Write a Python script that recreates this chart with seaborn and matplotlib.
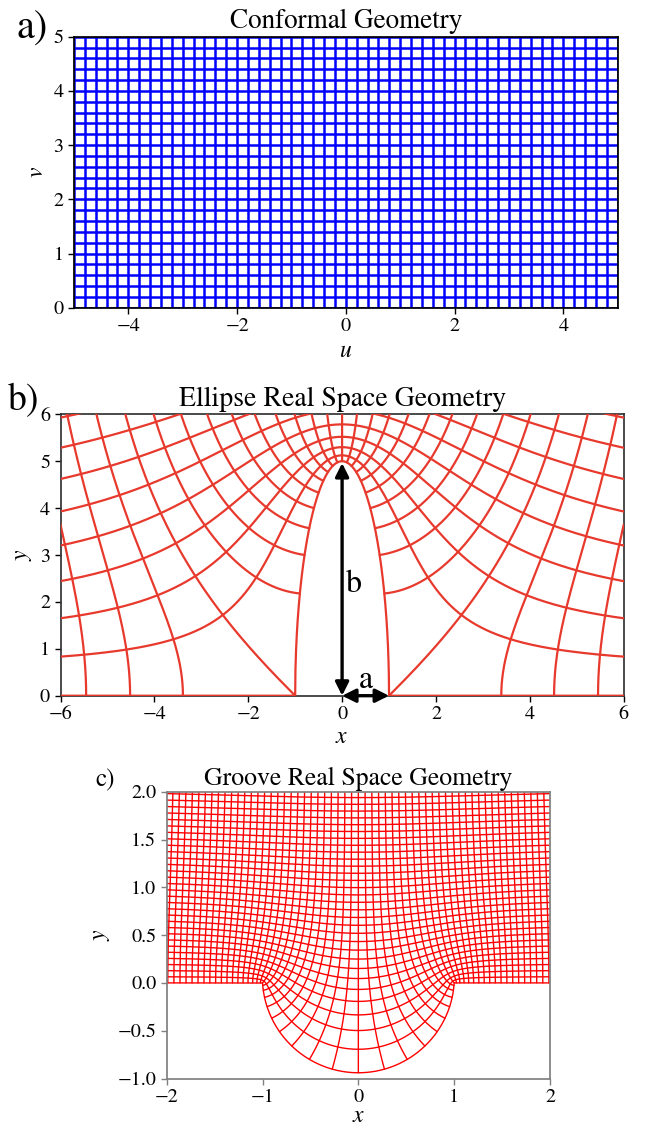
import numpy as np
import pandas as pd
import matplotlib
matplotlib.use("Agg")
import matplotlib.pyplot as plt
import seaborn as sns

# ---- conformal (w = u + i v) grid -------------------------------------------
U_RANGE = [-5.0, 5.0]
V_RANGE = [0.0, 5.0]
COARSE_STEP = 0.2      # grid spacing used for the conformal and ellipse panels
FINE_STEP = 0.1        # grid spacing used for the groove panel

# ---- ellipse geometry (semi-axes) -------------------------------------------
ELLIPSE_A = 1.0
ELLIPSE_B = 5.0

# ---- groove geometry (circular-arc groove) ----------------------------------
GROOVE_HALF_WIDTH = 1.0
GROOVE_DEPTH = 0.94

titles = ["Conformal Geometry", "Ellipse Real Space Geometry",
          "Groove Real Space Geometry"]
tags = ["a)", "b)", "c)"]

a_xticks = [-4, -2, 0, 2, 4]
a_yticks = [0, 1, 2, 3, 4, 5]
b_xticks = [-6, -4, -2, 0, 2, 4, 6]
b_yticks = [0, 1, 2, 3, 4, 5, 6]
c_xticks = [-2, -1, 0, 1, 2]
c_yticks = [-1.0, -0.5, 0.0, 0.5, 1.0, 1.5, 2.0]

N_PTS = 1601


def grid_lines(step):
    """Return complex arrays for the lines u = const and v = const."""
    us = np.round(np.arange(U_RANGE[0], U_RANGE[1] + step / 2, step), 6)
    vs = np.round(np.arange(V_RANGE[0], V_RANGE[1] + step / 2, step), 6)
    u_par = np.linspace(U_RANGE[0], U_RANGE[1], N_PTS)
    v_par = np.linspace(V_RANGE[0], V_RANGE[1], N_PTS)
    lines = [u + 1j * v_par for u in us]
    lines += [u_par + 1j * v for v in vs]
    return lines


def ellipse_map(w):
    # upper half plane -> exterior of a half ellipse standing on the real axis
    zeta = (w + np.sqrt(w - 2) * np.sqrt(w + 2)) / 2
    return (ELLIPSE_A + ELLIPSE_B) / 2 * zeta + (ELLIPSE_A - ELLIPSE_B) / 2 / zeta


GAMMA = 1 + 2 * np.arctan(GROOVE_DEPTH / GROOVE_HALF_WIDTH) / np.pi


def groove_map(w):
    # upper half plane -> half plane with a circular-arc groove
    with np.errstate(all="ignore"):
        p = np.power(w + 1, GAMMA)
        m = np.power(w - 1, GAMMA)
        z = GROOVE_HALF_WIDTH * (p + m) / (p - m)
    bad = ~np.isfinite(z)
    z[bad] = GROOVE_HALF_WIDTH * np.sign(w[bad].real)
    return z


def to_frame(lines, mapping=None):
    parts = []
    for k, w in enumerate(lines):
        z = mapping(w) if mapping is not None else w
        parts.append(pd.DataFrame({"x": z.real, "y": z.imag, "line": k}))
    return pd.concat(parts, ignore_index=True)


df_a = to_frame([np.array([w[0], w[-1]]) for w in grid_lines(COARSE_STEP)])
df_b = to_frame(grid_lines(COARSE_STEP), ellipse_map)
df_c = to_frame(grid_lines(FINE_STEP), groove_map)

# ---- figure -----------------------------------------------------------------
sns.set_theme(style="ticks")
plt.rcParams["font.family"] = ["STIXGeneral", "DejaVu Serif"]
plt.rcParams["mathtext.fontset"] = "stix"
plt.rcParams["axes.unicode_minus"] = True
for key in ("text.color", "axes.labelcolor", "xtick.color", "ytick.color",
            "xtick.labelcolor", "ytick.labelcolor"):
    plt.rcParams[key] = "black"

W_PX, H_PX = 645, 1130
fig = plt.figure(figsize=(W_PX / 100, H_PX / 100), dpi=100)


def px_axes(left, top, right, bottom):
    return fig.add_axes([left / W_PX, 1 - bottom / H_PX,
                         (right - left) / W_PX, (bottom - top) / H_PX])


ax_a = px_axes(74, 36.7, 617.7, 307.7)
ax_b = px_axes(60.5, 414.3, 623.7, 695.7)
ax_c = px_axes(166.7, 791.7, 550, 1078.5)

TICK_FS = 14.5
LABEL_FS = 17

# a) conformal grid
sns.lineplot(data=df_a, x="x", y="y", units="line", estimator=None, sort=False,
             color="#0000ff", linewidth=1.8, ax=ax_a, legend=False)
ax_a.set_xlim(-5, 5)
ax_a.set_ylim(0, 5)
ax_a.set_xticks(a_xticks)
ax_a.set_yticks(a_yticks)
ax_a.set_xlabel("$u$", fontsize=LABEL_FS)
ax_a.set_ylabel("$v$", fontsize=LABEL_FS)
ax_a.set_title(titles[0], fontsize=19.5, pad=6)

# b) ellipse
sns.lineplot(data=df_b, x="x", y="y", units="line", estimator=None, sort=False,
             color="#e8392d", linewidth=1.6, ax=ax_b, legend=False, zorder=3)
ax_b.set_xlim(-6, 6)
ax_b.set_ylim(0, 6)
ax_b.set_xticks(b_xticks)
ax_b.set_yticks(b_yticks)
ax_b.set_xlabel("$x$", fontsize=LABEL_FS, labelpad=2.5)
ax_b.set_ylabel("$y$", fontsize=LABEL_FS)
ax_b.set_title(titles[1], fontsize=20, pad=6)
arrow_kw = dict(arrowstyle="<|-|>", color="black", lw=2.4, mutation_scale=20,
                shrinkA=0, shrinkB=0)
ax_b.annotate("", xy=(0, 4.96), xytext=(0, 0.0), arrowprops=arrow_kw,
              annotation_clip=False, zorder=6)
ax_b.annotate("", xy=(ELLIPSE_A, 0.0), xytext=(0, 0.0), arrowprops=arrow_kw,
              annotation_clip=False, zorder=6)
ax_b.text(0.25, 2.22, "b", fontsize=23, ha="center", va="baseline")
ax_b.text(0.50, 0.17, "a", fontsize=23, ha="center", va="baseline")

# c) groove
sns.lineplot(data=df_c, x="x", y="y", units="line", estimator=None, sort=False,
             color="#ff0000", linewidth=1.0, ax=ax_c, legend=False)
ax_c.set_xlim(-2, 2)
ax_c.set_ylim(-1, 2)
ax_c.set_xticks(c_xticks)
ax_c.set_yticks(c_yticks)
ax_c.set_yticklabels([f"{t:.1f}".replace("-", "\u2212") for t in c_yticks])
ax_c.set_xlabel("$x$", fontsize=LABEL_FS, labelpad=0)
ax_c.set_ylabel("$y$", fontsize=LABEL_FS)
ax_c.set_title(titles[2], fontsize=18.5, pad=5)

for ax in (ax_a, ax_b, ax_c):
    ax.tick_params(labelsize=TICK_FS, length=4, width=1.0, direction="out")
for sp in ax_a.spines.values():
    sp.set_color("black")
for sp in ax_b.spines.values():
    sp.set_color("#333333")
for sp in ax_c.spines.values():
    sp.set_color("#808080")
ax_c.tick_params(color="#808080")

fig.text(17 / W_PX, 1 - 39 / H_PX, tags[0], fontsize=29, ha="left", va="baseline")
fig.text(8 / W_PX, 1 - 410 / H_PX, tags[1], fontsize=27, ha="left", va="baseline")
fig.text(95 / W_PX, 1 - 786 / H_PX, tags[2], fontsize=18, ha="left", va="baseline")

fig.savefig("out.png", dpi=100)
